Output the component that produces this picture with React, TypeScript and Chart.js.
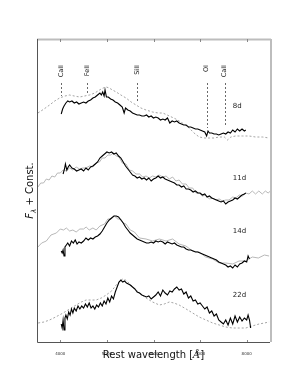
import React, { useEffect, useRef } from "react";
import { Chart, registerables } from "chart.js";

Chart.register(...registerables);

// ---- tick labels / annotations ----
const xTicks = [4000, 5000, 6000, 7000, 8000];
const lineIdNames = ["CaII", "FeII", "SiII", "OI", "CaII"];
const lineIdWave = [4020, 4575, 5645, 7140, 7530];
const lineIdEnd = [246, 247, 240, 214, 215];
const lineIdTop = 259;
const lineIdTextTop = 277;
const epochNames = ["8d", "11d", "14d", "22d"];
const epochWave = 7700;
const epochLevel = [236, 164, 111, 47];

// ---- 8d ----
const wl8 = [4020,4050,4080,4120,4160,4200,4250,4300,4350,4400,4450,4500,4550,4600,4650,4700,4750,4800,4850,4880,4910,4940,4960,4990,5030,5080,5130,5180,5230,5280,5330,5370,5400,5450,5500,5550,5600,5650,5700,5750,5800,5850,5900,5950,6000,6050,6100,6150,6200,6250,6300,6350,6400,6450,6500,6550,6600,6650,6700,6750,6800,6850,6900,6950,7000,7050,7100,7140,7170,7200,7250,7300,7350,7400,7450,7500,7550,7600,7650,7700,7750,7800,7850,7900,7950,7980];
const flux8 = [228,233,236,239,241,240,241,239,240,238,239,240,239,241,242,244,245,247,249,247,250,246,252,245,245,243,242,240,239,237,235,229,234,232,231,229,228,227,227,226,226,227,225,226,224,225,224,222,223,222,224,219,221,220,221,219,218,217,217,215,215,214,213,213,212,211,210,206,211,209,209,208,208,207,208,209,208,210,209,212,210,213,211,213,211,212];
const wlRef8 = [3520,3650,3770,3880,3985,4100,4200,4300,4415,4520,4625,4740,4840,4920,4985,5050,5120,5200,5300,5410,5520,5625,5730,5840,5980,6100,6200,6340,6480,6620,6765,6870,6980,7100,7195,7300,7410,7520,7590,7660,7760,7910,8050,8190,8340,8480];
const fluxRef8 = [229,233,237,241,244,246,247,246,245,246,247,249,252,254,255,254,252,250,247,244,240,237,234,232,230,229,229,226,223,219,214,209,205,204,204,204,205,205,202,205,206,206,206,205,205,204];

// ---- 11d ----
const wl11 = [4060,4090,4110,4140,4170,4200,4250,4300,4350,4400,4450,4500,4550,4600,4650,4700,4750,4800,4850,4900,4950,5000,5050,5100,5150,5200,5250,5300,5350,5400,5450,5500,5550,5600,5650,5700,5750,5800,5850,5900,5950,6000,6050,6100,6150,6200,6250,6300,6350,6400,6450,6500,6550,6600,6650,6700,6750,6800,6850,6900,6950,7000,7050,7100,7150,7200,7250,7300,7350,7400,7450,7500,7550,7600,7650,7700,7750,7800,7850,7900,7950,7980];
const flux11 = [168,173,178,172,175,177,174,173,171,172,173,171,174,172,175,176,178,180,184,186,188,190,189,190,188,189,186,184,180,176,173,170,167,166,164,165,163,164,162,164,161,163,164,166,164,165,163,162,161,160,159,157,157,155,156,153,153,152,150,151,149,149,147,148,145,146,144,143,142,141,140,141,138,140,141,142,144,143,145,147,148,149];
const wlRef11 = [3520,3580,3640,3700,3760,3820,3880,3940,4000,4060,4130,4200,4270,4340,4415,4480,4550,4625,4700,4770,4840,4900,4960,5020,5080,5140,5200,5260,5330,5410,5480,5550,5625,5700,5770,5840,5910,5980,6050,6120,6200,6270,6340,6410,6480,6550,6620,6700,6765,6840,6910,6980,7050,7120,7200,7270,7340,7410,7480,7550,7620,7700,7765,7840,7910,7980,8050,8120,8190,8260,8335,8400,8460,8510];
const fluxRef11 = [155,159,159,163,162,166,165,169,169,172,171,174,172,175,173,174,174,176,175,179,180,184,184,187,187,189,186,185,179,178,172,171,168,168,165,166,164,166,165,167,165,166,163,165,161,162,158,158,154,154,149,149,146,147,143,144,142,143,141,142,142,145,144,147,146,149,148,151,148,151,148,151,149,151];

// ---- 14d ----
const wl14 = [4020,4040,4060,4080,4100,4130,4160,4200,4240,4280,4320,4360,4400,4450,4500,4550,4600,4650,4700,4750,4800,4850,4900,4950,5000,5050,5100,5150,5200,5250,5300,5350,5400,5450,5500,5550,5600,5650,5700,5750,5800,5850,5900,5950,6000,6050,6100,6150,6200,6250,6300,6350,6400,6450,6500,6550,6600,6650,6700,6750,6800,6850,6900,6950,7000,7050,7100,7150,7200,7250,7300,7350,7400,7450,7500,7550,7600,7650,7700,7750,7800,7850,7900,7950,8000,8030,8060];
const flux14 = [91,89,92,86,95,97,99,96,101,99,102,98,100,99,101,104,102,104,103,105,106,108,111,115,119,122,124,126,126,125,122,119,115,112,109,107,105,103,102,101,100,99,99,100,99,101,100,101,100,98,100,99,98,99,97,96,95,95,93,92,92,91,90,90,89,88,87,86,85,84,83,82,80,79,78,77,75,76,74,77,75,78,79,81,80,86,83];
const wlRef14 = [3520,3600,3700,3800,3915,4000,4070,4130,4200,4270,4340,4420,4500,4555,4620,4700,4770,4850,4950,5020,5090,5160,5235,5300,5350,5410,5500,5590,5700,5840,5980,6125,6270,6410,6550,6695,6840,6980,7120,7265,7410,7550,7700,7835,7980,8120,8250,8380,8480];
const fluxRef14 = [95,99,101,107,109,113,112,114,111,112,110,113,113,115,112,114,112,116,118,123,123,126,123,123,119,118,112,110,104,103,101,103,101,103,98,96,91,90,85,83,79,79,78,81,81,85,84,87,86];

// ---- 22d ----
const wl22 = [4020,4040,4060,4080,4100,4120,4150,4180,4210,4240,4270,4300,4340,4380,4420,4460,4500,4540,4580,4620,4660,4700,4740,4780,4820,4860,4900,4940,4980,5020,5060,5100,5140,5180,5220,5260,5300,5340,5380,5420,5460,5500,5550,5600,5650,5700,5750,5800,5850,5900,5950,6000,6050,6100,6150,6200,6250,6300,6350,6400,6450,6500,6550,6600,6650,6700,6750,6800,6850,6900,6950,7000,7050,7100,7150,7200,7250,7300,7350,7400,7450,7500,7550,7600,7650,7700,7750,7800,7850,7900,7950,8000,8030,8060,8085];
const flux22 = [18,14,22,12,24,27,23,30,27,33,29,34,31,36,33,36,34,38,35,39,34,36,33,37,35,39,36,41,38,44,40,46,43,50,55,60,62,60,61,59,58,57,55,53,50,49,47,46,45,46,43,45,47,50,46,52,49,47,51,50,53,55,52,53,48,50,44,46,41,42,38,39,36,33,35,29,31,26,28,22,20,18,22,17,24,18,26,20,25,21,24,22,27,22,14];
const wlRef22 = [3525,3650,3770,3900,4060,4200,4340,4450,4555,4660,4770,4880,4985,5100,5200,5280,5340,5400,5450,5540,5625,5730,5840,5980,6125,6230,6340,6440,6550,6700,6840,6980,7125,7270,7410,7550,7695,7840,7980,8120,8265,8380,8480];
const fluxRef22 = [19,20,22,25,29,33,37,40,42,42,42,44,47,51,57,61,63,62,60,56,52,48,44,40,37,38,40,39,37,33,29,25,22,19,17,15,14,14,14,16,18,19,20];

const pts = (wl: number[], fl: number[]) => wl.map((x, i) => ({ x: x, y: fl[i] }));

const decor = {
  id: "decor",
  afterDraw(chart: any) {
    const ctx = chart.ctx;
    const { left, right, top, bottom } = chart.chartArea;
    const xs = chart.scales.x;
    const ys = chart.scales.y;
    ctx.save();
    // spines
    ctx.lineWidth = 2;
    ctx.strokeStyle = "#bdbdbd";
    ctx.beginPath();
    ctx.moveTo(left, top + 0.5);
    ctx.lineTo(right + 1, top + 0.5);
    ctx.moveTo(right + 1, top);
    ctx.lineTo(right + 1, bottom);
    ctx.stroke();
    ctx.lineWidth = 1;
    ctx.strokeStyle = "#555";
    ctx.beginPath();
    ctx.moveTo(left + 0.5, top);
    ctx.lineTo(left + 0.5, bottom + 0.5);
    ctx.lineTo(right, bottom + 0.5);
    ctx.stroke();
    // ticks
    ctx.strokeStyle = "#888";
    ctx.beginPath();
    xTicks.forEach((v) => {
      const px = Math.round(xs.getPixelForValue(v)) + 0.5;
      ctx.moveTo(px, top);
      ctx.lineTo(px, top + 3);
      ctx.moveTo(px, bottom);
      ctx.lineTo(px, bottom - 2);
    });
    ctx.stroke();
    // line identifications
    ctx.setLineDash([2, 2]);
    ctx.strokeStyle = "#444";
    ctx.lineWidth = 0.8;
    lineIdWave.forEach((w, i) => {
      const px = Math.round(xs.getPixelForValue(w)) + 0.5;
      ctx.beginPath();
      ctx.moveTo(px, ys.getPixelForValue(lineIdTop));
      ctx.lineTo(px, ys.getPixelForValue(lineIdEnd[i]));
      ctx.stroke();
    });
    ctx.setLineDash([]);
    ctx.fillStyle = "#222";
    ctx.font = "6.5px 'DejaVu Sans'";
    lineIdWave.forEach((w, i) => {
      const px = xs.getPixelForValue(w);
      ctx.save();
      ctx.translate(px, ys.getPixelForValue(lineIdTextTop));
      ctx.rotate(-Math.PI / 2);
      ctx.textAlign = "right";
      ctx.textBaseline = "middle";
      ctx.fillText(lineIdNames[i], 0, 0);
      ctx.restore();
    });
    // epoch labels
    ctx.font = "7px 'DejaVu Sans'";
    ctx.textAlign = "left";
    ctx.textBaseline = "middle";
    epochNames.forEach((n, i) => {
      ctx.fillText(n, xs.getPixelForValue(epochWave), ys.getPixelForValue(epochLevel[i]));
    });
    // x title
    ctx.fillStyle = "#111";
    ctx.textBaseline = "alphabetic";
    ctx.textAlign = "left";
    const f1 = "10px 'DejaVu Sans'";
    const f2 = "italic 10px 'DejaVu Serif'";
    const p1 = "Rest wavelength [";
    const p2 = "\u00C5";
    const p3 = "]";
    ctx.font = f1;
    const w1 = ctx.measureText(p1).width;
    const w3 = ctx.measureText(p3).width;
    ctx.font = f2;
    const w2 = ctx.measureText(p2).width;
    const cx = (left + right) / 2;
    let sx = cx - (w1 + w2 + w3) / 2;
    const by = 358;
    ctx.font = f1;
    ctx.fillText(p1, sx, by);
    sx += w1;
    ctx.font = f2;
    ctx.fillText(p2, sx, by);
    sx += w2;
    ctx.font = f1;
    ctx.fillText(p3, sx, by);
    // y title
    ctx.save();
    ctx.translate(33, (top + bottom) / 2);
    ctx.rotate(-Math.PI / 2);
    const fF = "italic 10px 'DejaVu Sans'";
    const fL = "italic 7px 'DejaVu Sans'";
    const rest = " + Const.";
    ctx.font = fF;
    const wF = ctx.measureText("F").width;
    ctx.font = fL;
    const wL = ctx.measureText("\u03BB").width;
    ctx.font = f1;
    const wR = ctx.measureText(rest).width;
    let tx = -(wF + wL + wR) / 2;
    ctx.font = fF;
    ctx.fillText("F", tx, 0);
    tx += wF;
    ctx.font = fL;
    ctx.fillText("\u03BB", tx, 2.5);
    tx += wL;
    ctx.font = f1;
    ctx.fillText(rest, tx, 0);
    ctx.restore();
    ctx.restore();
  },
};

export default function App() {
  const ref = useRef<HTMLCanvasElement>(null);
  useEffect(() => {
    const black = "#000000";
    const grayDash = "#9a9a9a";
    const grayNoisy = "#b0b0b0";
    const refDs = (wl: number[], fl: number[], dashed: boolean) => ({
      data: pts(wl, fl),
      borderColor: dashed ? grayDash : grayNoisy,
      borderWidth: 0.9,
      borderDash: dashed ? [2, 2] : [],
      pointRadius: 0,
      fill: false,
      showLine: true,
      order: 2,
    });
    const obsDs = (wl: number[], fl: number[]) => ({
      data: pts(wl, fl),
      borderColor: black,
      borderWidth: 1.1,
      pointRadius: 0,
      fill: false,
      showLine: true,
      order: 1,
    });
    const chart = new Chart(ref.current as HTMLCanvasElement, {
      type: "scatter",
      data: {
        datasets: [
          obsDs(wl8, flux8),
          obsDs(wl11, flux11),
          obsDs(wl14, flux14),
          obsDs(wl22, flux22),
          refDs(wlRef8, fluxRef8, true),
          refDs(wlRef11, fluxRef11, false),
          refDs(wlRef14, fluxRef14, false),
          refDs(wlRef22, fluxRef22, true),
        ] as any,
      },
      options: {
        animation: false,
        responsive: false,
        layout: { padding: { left: 37, right: 30, top: 39, bottom: 0 } },
        plugins: { legend: { display: false }, tooltip: { enabled: false } },
        elements: { line: { tension: 0 }, point: { radius: 0 } },
        scales: {
          x: {
            type: "linear",
            min: 3500,
            max: 8500,
            grid: { display: false },
            border: { display: false },
            afterBuildTicks: (s: any) => {
              s.ticks = xTicks.map((v) => ({ value: v }));
            },
            afterFit: (s: any) => {
              s.height = 48;
            },
            ticks: {
              font: { size: 4, family: "'DejaVu Sans'" },
              color: "#333",
              padding: 2,
              maxRotation: 0,
              autoSkip: false,
              callback: (v: any) => String(v),
            },
          },
          y: { type: "linear", min: 0, max: 303, display: false },
        },
      } as any,
      plugins: [decor],
    });
    return () => chart.destroy();
  }, []);
  return (
    <div style={{ position: "fixed", left: 0, top: 0, width: 300, height: 390, background: "#fff" }}>
      <canvas ref={ref} width={300} height={390} style={{ display: "block", width: 300, height: 390 }} />
    </div>
  );
}
